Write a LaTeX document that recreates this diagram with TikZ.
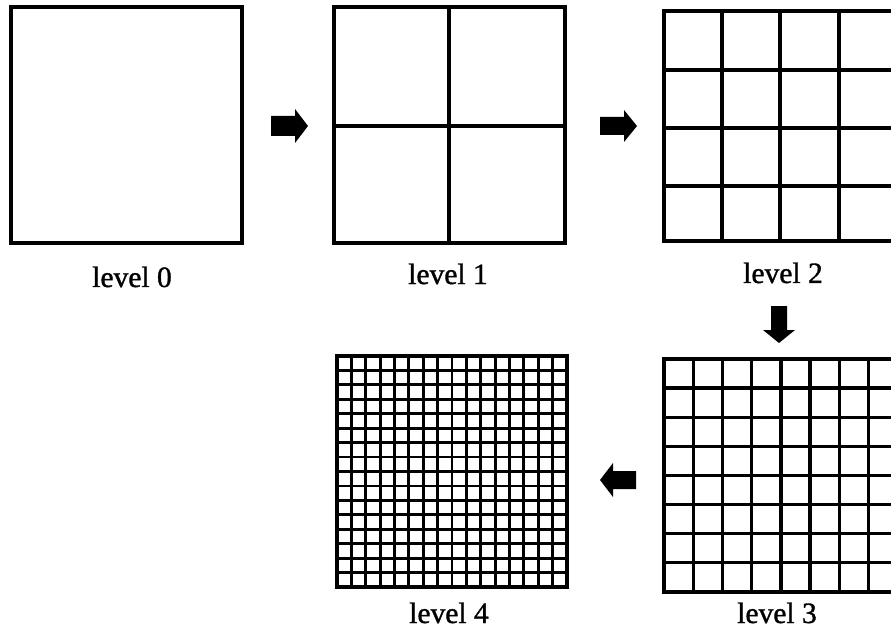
\documentclass[tikz,border=0pt]{standalone}
\usepackage{fontspec}
\setmainfont{Liberation Serif}
\newfontfamily\lblfont[FakeBold=1.2]{Liberation Serif}
\begin{document}
\begin{tikzpicture}[x=1pt,y=-1pt,
  frame/.style={line width=4.2pt},
  inner/.style={line width=3.4pt},
  finer/.style={line width=2.8pt},
  blockarrow/.style={fill=black,draw=none},
  lbl/.style={anchor=base,font=\lblfont\fontsize{29.5}{32}\selectfont,inner sep=0pt}]
\useasboundingbox (0,0) rectangle (891,636);
\begin{scope}
\clip (0,0) rectangle (891,636);
% level 0
\draw[frame] (11,7) rectangle (242,243);
% level 1
\draw[inner] (449,7) -- (449,243) (334,126) -- (565,126);
\draw[frame] (334,7) rectangle (565,243);
% level 2
\draw[inner] (722,11) -- (722,241) (780,11) -- (780,241) (839,11) -- (839,241);
\draw[inner] (664,70) -- (900,70) (664,128) -- (900,128) (664,186) -- (900,186);
\draw[frame] (664,11) rectangle (897,241);
% level 3
\foreach \i in {1,...,7} {
  \draw[inner] ({664+29.2*\i},359) -- ({664+29.2*\i},592);
  \draw[inner] (664,{359+29.1*\i}) -- (900,{359+29.1*\i});
}
\draw[frame] (664,359) rectangle (898,592);
% level 4
\foreach \i in {1,...,15} {
  \draw[finer] ({337+14.375*\i},356) -- ({337+14.375*\i},587);
  \draw[finer] (337,{356+14.44*\i}) -- (567,{356+14.44*\i});
}
\draw[frame] (337,356) rectangle (567,587);
\end{scope}
% arrows
\fill[blockarrow] (271,116) -- (295,116) -- (295,109) -- (308,126) -- (295,143) -- (295,136) -- (271,136) -- cycle;
\fill[blockarrow] (600,117) -- (624,117) -- (624,110) -- (637,126) -- (624,142) -- (624,135) -- (600,135) -- cycle;
\fill[blockarrow] (771,306) -- (787,306) -- (787,330) -- (795,330) -- (779,343) -- (763,330) -- (771,330) -- cycle;
\fill[blockarrow] (636,471) -- (613,471) -- (613,463) -- (600,480) -- (613,497) -- (613,489) -- (636,489) -- cycle;
% labels
\node[lbl] (l0) at (132,287) {level 0};
\node[lbl] (l1) at (448,284) {level 1};
\node[lbl] (l2) at (783,283) {level 2};
\node[lbl] (l4) at (449,623) {level 4};
\node[lbl] (l3) at (777,623) {level 3};
\end{tikzpicture}
\end{document}
